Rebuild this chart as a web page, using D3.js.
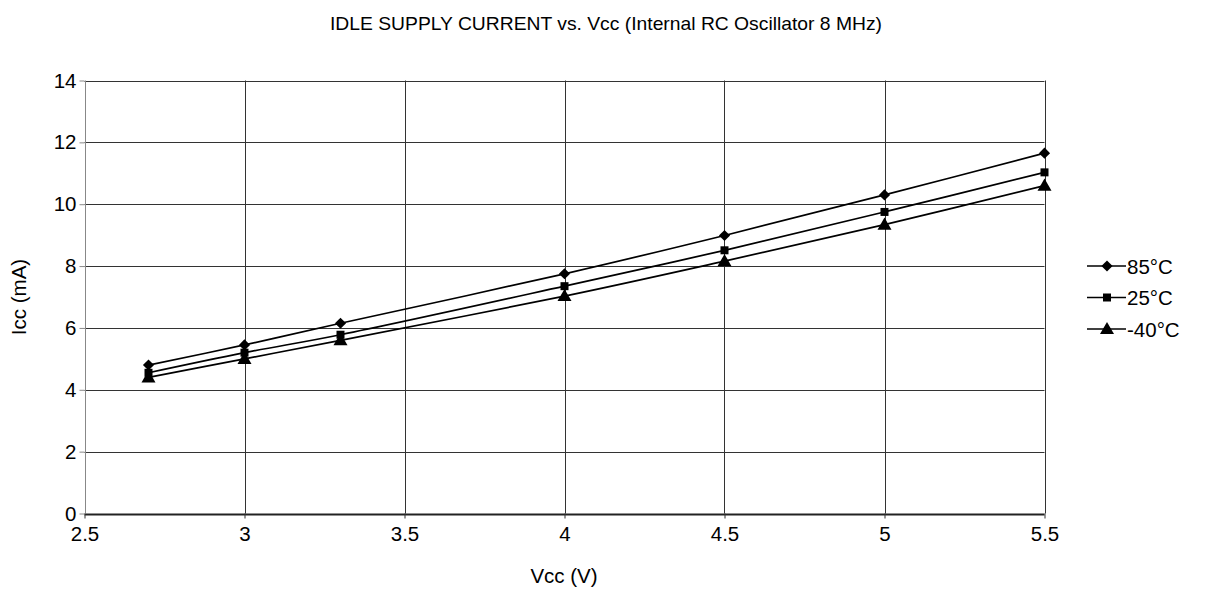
<!DOCTYPE html>
<html><head><meta charset="utf-8">
<script src="https://cdn.jsdelivr.net/npm/d3@7"></script>
<style>body{margin:0;background:#fff;} text{font-family:"Liberation Sans",Arial,sans-serif;fill:#000;}</style>
</head><body>
<svg id="c" width="1207" height="599"></svg>
<script>
const vcc = [2.7, 3.0, 3.3, 4.0, 4.5, 5.0, 5.5];
const i85 = [4.8, 5.45, 6.15, 7.75, 8.99, 10.3, 11.65];
const i25 = [4.55, 5.2, 5.78, 7.35, 8.51, 9.75, 11.03];
const iM40 = [4.4, 5.0, 5.6, 7.03, 8.16, 9.34, 10.6];
const seriesNames = ["85°C", "25°C", "-40°C"];
const seriesShapes = ["diamond", "square", "triangle"];
const xTicks = [2.5, 3, 3.5, 4, 4.5, 5, 5.5];
const yTicks = [0, 2, 4, 6, 8, 10, 12, 14];

const svg = d3.select("#c");
const L = 84.5, R = 1044.5, T = 80.5, B = 513.5;
const x = d3.scaleLinear().domain([2.5, 5.5]).range([L, R]);
const y = d3.scaleLinear().domain([0, 14]).range([B, T]);

svg.append("text").attr("x", 606).attr("y", 30).attr("text-anchor", "middle")
  .attr("font-size", 19).attr("textLength", 552).attr("lengthAdjust", "spacingAndGlyphs")
  .text("IDLE SUPPLY CURRENT vs. Vcc (Internal RC Oscillator 8 MHz)");

// grid
const g = svg.append("g");
g.selectAll(".hg").data(yTicks).enter().append("line")
  .attr("x1", L).attr("x2", R).attr("y1", d => Math.round(y(d)) + 0.5).attr("y2", d => Math.round(y(d)) + 0.5)
  .attr("stroke", d => d === 0 ? "#222" : "#333").attr("stroke-width", d => d === 0 ? 2 : 1);
g.selectAll(".vg").data(xTicks).enter().append("line")
  .attr("y1", T).attr("y2", B).attr("x1", d => Math.round(x(d)) + 0.5).attr("x2", d => Math.round(x(d)) + 0.5)
  .attr("stroke", (d, i) => i === 0 ? "#888" : "#333").attr("stroke-width", 1);

// axes
const xa = svg.append("g").attr("transform", `translate(0,${B})`)
  .call(d3.axisBottom(x).tickValues(xTicks).tickSize(5).tickFormat(d3.format("")));
xa.select(".domain").remove();
xa.selectAll("line").attr("stroke", "#333");
xa.selectAll("text").attr("font-size", 20.5).attr("dy", "0.95em");
const ya = svg.append("g").attr("transform", `translate(${L},0)`)
  .call(d3.axisLeft(y).tickValues(yTicks).tickSize(5).tickFormat(d3.format("")));
ya.select(".domain").remove();
ya.selectAll("line").attr("stroke", "#888");
ya.selectAll("text").attr("font-size", 20.5);

svg.append("text").attr("x", 564).attr("y", 583).attr("text-anchor", "middle").attr("font-size", 20.5).text("Vcc (V)");
svg.append("text").attr("transform", "translate(26,297) rotate(-90)").attr("text-anchor", "middle").attr("font-size", 20.5).text("Icc (mA)");

const symbols = {
  diamond: d3.symbolSquare,
  square: d3.symbolSquare,
  triangle: d3.symbolTriangle
};
const symSize = {diamond: 62, square: 64, triangle: 85};
const symRot = {diamond: 45, square: 0, triangle: 0};
const symDy = {diamond: 0, square: 0, triangle: 1};
const data = [i85, i25, iM40];
const line = d3.line().x((d, i) => x(vcc[i])).y(d => y(d)).curve(d3.curveCatmullRom.alpha(0.5));

data.forEach((vals) => {
  svg.append("path").attr("d", line(vals)).attr("fill", "none").attr("stroke", "#000").attr("stroke-width", 1.7);
});
data.forEach((vals, s) => {
  const sh = seriesShapes[s];
  svg.selectAll(".m" + s).data(vals).enter().append("path")
    .attr("d", d3.symbol().type(symbols[sh]).size(symSize[sh]))
    .attr("transform", (d, i) => `translate(${x(vcc[i])},${y(d) + symDy[sh]}) rotate(${symRot[sh]})`)
    .attr("fill", "#000");
});

// legend
const lg = svg.append("g");
seriesNames.forEach((n, s) => {
  const ly = 266 + s * 31.5;
  const sh = seriesShapes[s];
  lg.append("line").attr("x1", 1087).attr("x2", 1126).attr("y1", ly).attr("y2", ly).attr("stroke", "#000").attr("stroke-width", 1.7);
  lg.append("path").attr("d", d3.symbol().type(symbols[sh]).size(symSize[sh]))
    .attr("transform", `translate(1107,${ly + symDy[sh]}) rotate(${symRot[sh]})`);
  lg.append("text").attr("x", 1127).attr("y", ly + 7.5).attr("font-size", 20.5).text(n);
});
</script>
</body></html>
